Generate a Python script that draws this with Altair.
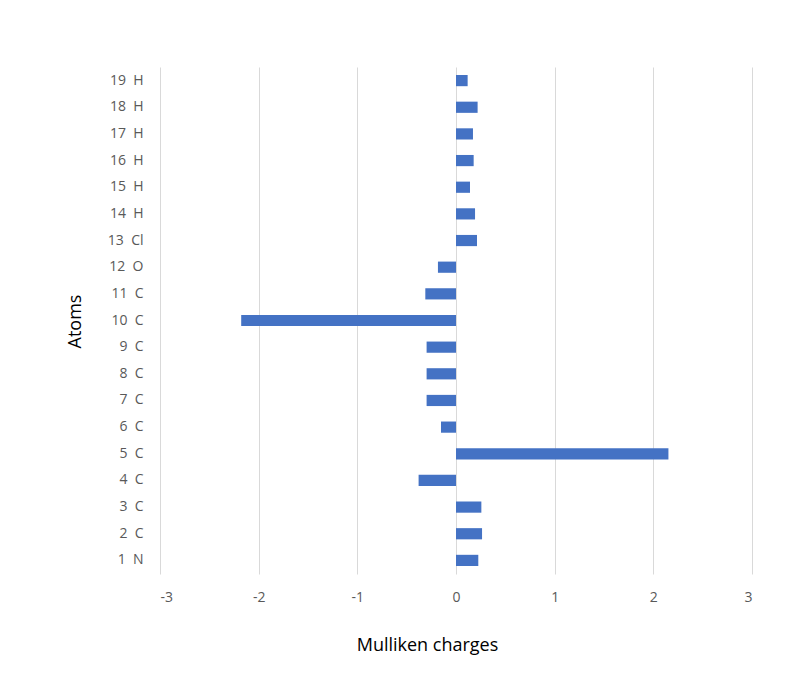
import altair as alt
import pandas as pd

atoms = ["1 N", "2 C", "3 C", "4 C", "5 C", "6 C", "7 C", "8 C", "9 C", "10 C",
         "11 C", "12 O", "13 Cl", "14 H", "15 H", "16 H", "17 H", "18 H", "19 H"]
charges = [0.226, 0.264, 0.257, -0.379, 2.153, -0.152, -0.298, -0.298, -0.298, -2.177,
           -0.311, -0.183, 0.213, 0.193, 0.142, 0.179, 0.172, 0.219, 0.118]

labels = [a.replace(" ", "\u00a0\u00a0") for a in atoms]
df = pd.DataFrame({"atom": labels, "charge": charges})
order = labels[::-1]

FONT = "Open Sans"

bars = alt.Chart(df).mark_bar(color="#4472C4").encode(
    x=alt.X("charge:Q",
            scale=alt.Scale(domain=[-3, 3], nice=False, zero=False),
            axis=alt.Axis(values=[-3, -2, -1, 0, 1, 2, 3],
                          labelExpr="toString(datum.value)",
                          title="Mulliken charges", grid=True, gridColor="#d9d9d9",
                          gridWidth=1, domain=False, ticks=False,
                          labelFont=FONT, labelFontSize=14, labelColor="#595959",
                          labelPadding=16,
                          titleFont=FONT, titleFontSize=18, titleFontWeight="normal",
                          titleColor="#000000", titleX=267, titleY=71,
                          titleBaseline="middle", titleAlign="center")),
    y=alt.Y("atom:N", sort=order,
            scale=alt.Scale(paddingInner=0.58, paddingOuter=0.3),
            axis=alt.Axis(title="Atoms", domain=False, ticks=False, grid=False,
                          labelFont=FONT, labelFontSize=14, labelColor="#595959",
                          labelPadding=17,
                          titleFont=FONT, titleFontSize=18, titleFontWeight="normal",
                          titleColor="#000000", titleAngle=270, titleX=-85, titleY=254,
                          titleAlign="center", titleBaseline="middle")),
)

chart = bars.properties(
    width=592, height=507,
    background="white",
    autosize=alt.AutoSizeParams(type="none"),
    padding={"left": 152, "top": 59, "right": 25, "bottom": 95},
).configure_view(stroke=None)

chart.save("out.html", embed_options={"renderer": "svg", "actions": False})
